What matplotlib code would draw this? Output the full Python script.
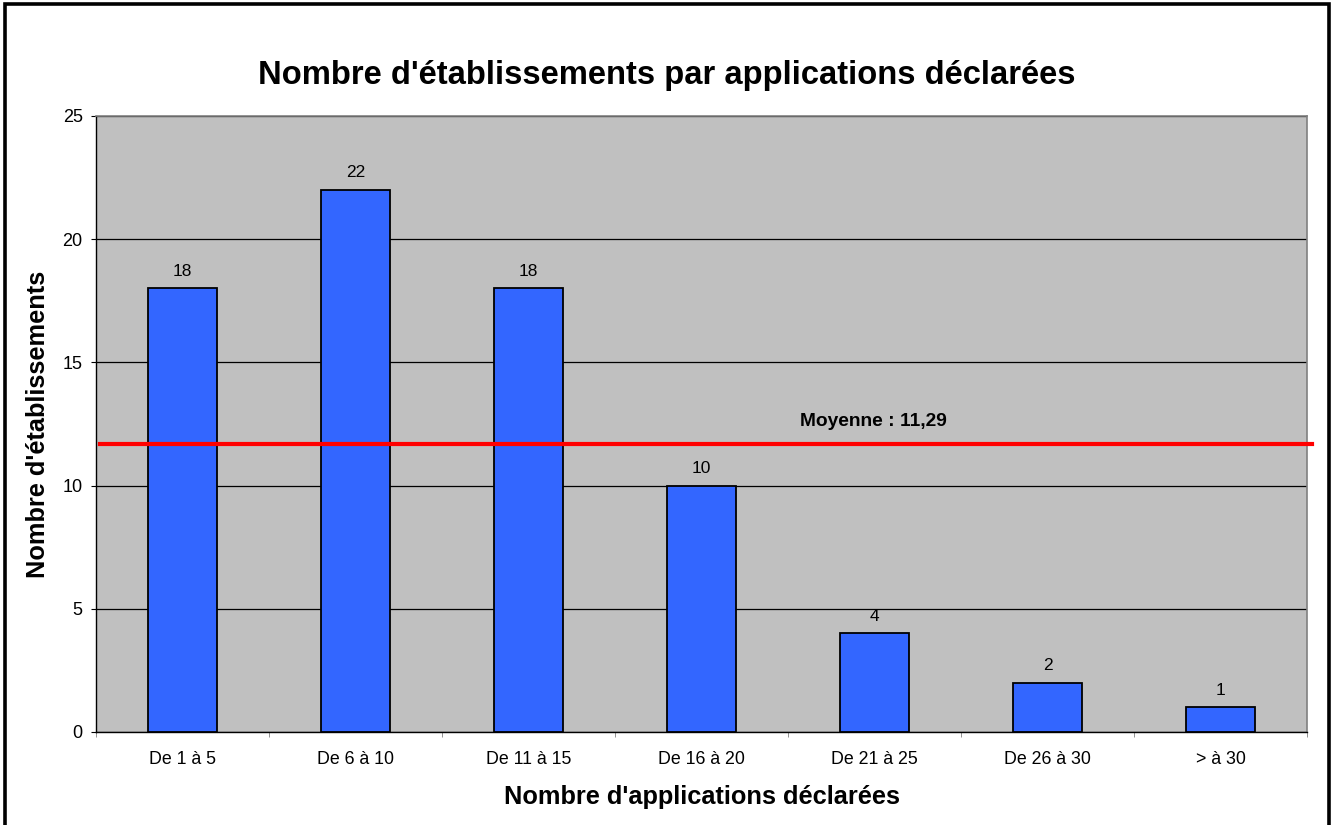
import matplotlib
matplotlib.use("Agg")
import matplotlib.pyplot as plt
from matplotlib.patches import Rectangle

categories = ["De 1 à 5", "De 6 à 10", "De 11 à 15", "De 16 à 20",
              "De 21 à 25", "De 26 à 30", "> à 30"]
values = [18, 22, 18, 10, 4, 2, 1]
mean_line = 11.67
mean_label = "Moyenne : 11,29"
yticks = [0, 5, 10, 15, 20, 25]
title = "Nombre d'établissements par applications déclarées"
xlabel = "Nombre d'applications déclarées"
ylabel = "Nombre d'établissements"

plt.rcParams['font.family'] = ['Liberation Sans', 'DejaVu Sans']

W, H = 1334, 825
fig = plt.figure(figsize=(W / 100, H / 100), dpi=100)
fig.patch.set_facecolor("white")

left, right, top, bottom = 96, 1307, 116, 732
ax = fig.add_axes([left / W, 1 - bottom / H, (right - left) / W, (bottom - top) / H])
ax.set_facecolor("#C0C0C0")

x = list(range(len(categories)))
ax.bar(x, values, width=0.4, color="#3366FF", edgecolor="black", linewidth=1.3, zorder=3)

for xi, v in zip(x, values):
    ax.annotate(str(v), xy=(xi, v), xytext=(0, 7), textcoords="offset points",
                ha="center", va="bottom", fontsize=12.5, color="black", zorder=4)

ax.set_xlim(-0.5, len(categories) - 0.5)
ax.set_ylim(0, 25)
ax.set_yticks(yticks)
ax.set_xticks(x)
ax.set_xticklabels(categories, fontsize=12.8)
ax.set_xticks([i - 0.5 for i in range(len(categories) + 1)], minor=True)
ax.tick_params(axis="x", which="major", length=0, pad=14)
ax.tick_params(axis="x", which="minor", length=3.6, color="#808080", direction="out")
ax.tick_params(axis="y", which="major", length=3.6, color="black", direction="out",
               labelsize=13, pad=6)

ax.grid(axis="y", color="black", linewidth=0.9, zorder=1)
ax.set_axisbelow(True)
for s in ["top", "right"]:
    ax.spines[s].set_color("#808080")
    ax.spines[s].set_linewidth(1.2)
for s in ["left", "bottom"]:
    ax.spines[s].set_color("black")
    ax.spines[s].set_linewidth(1.0)

ax.axhline(mean_line, xmin=(100 - left) / (right - left), xmax=1.004,
           color="#FF0000", linewidth=3.0, zorder=5, clip_on=False)
ax.annotate(mean_label, xy=(3.57, mean_line), xytext=(0, 13), textcoords="offset points",
            ha="left", va="baseline", fontsize=13.8, fontweight="bold", zorder=6)

fig.text(0.5, 1 - 84 / H, title, ha="center", va="baseline",
         fontsize=23.6, fontweight="bold")
fig.text((left + right) / 2 / W, 1 - 804 / H, xlabel, ha="center", va="baseline",
         fontsize=18.3, fontweight="bold")
fig.text(38 / W, 1 - (top + bottom) / 2 / H, ylabel, ha="center", va="center",
         rotation=90, fontsize=18.3, fontweight="bold")

fig.patches.append(Rectangle((4.5 / W, -0.05), (1329 - 4.5) / W, 1.05 - 4.5 / H,
                             transform=fig.transFigure, fill=False,
                             edgecolor="black", linewidth=2.6))

fig.savefig("out.png", dpi=100)
